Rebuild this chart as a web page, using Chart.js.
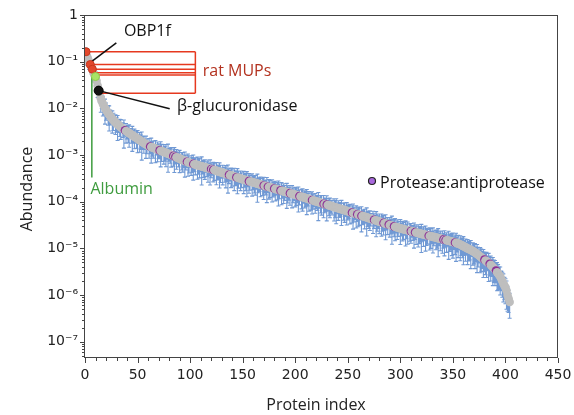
<!DOCTYPE html>
<html><head><meta charset="utf-8">
<script src="https://cdn.jsdelivr.net/npm/chart.js@4.4.1/dist/chart.umd.min.js"></script>
<style>html,body{margin:0;padding:0;background:#fff}#wrap{width:574px;height:415px}</style>
</head><body><div id="wrap"><canvas id="c" width="574" height="415"></canvas></div>
<script>
// ---- data (protein rank 1..N, sorted by abundance) ----
const abundance = [
1.63e-1,1.30e-1,1.12e-1,9.8e-2,8.7e-2,7.8e-2,6.9e-2,5.8e-2,5.2e-2,4.8e-2,
3.9e-2,3.1e-2,2.4e-2,2.1e-2,1.65e-2,1.42e-2,1.25e-2,1.12e-2,1.02e-2,9.3e-3,
8.6e-3,7.9e-3,7.3e-3,6.8e-3,6.3e-3,5.9e-3,5.6e-3,5.3e-3,5.0e-3,4.75e-3,
4.55e-3,4.35e-3,4.15e-3,3.95e-3,3.8e-3,3.65e-3,3.52e-3,3.40e-3,3.28e-3,3.16e-3,
3.05e-3,2.95e-3,2.85e-3,2.75e-3,2.66e-3,2.57e-3,2.48e-3,2.40e-3,2.32e-3,2.24e-3,
2.16e-3,2.09e-3,2.02e-3,1.95e-3,1.88e-3,1.82e-3,1.76e-3,1.70e-3,1.64e-3,1.58e-3,
1.55e-3,1.52e-3,1.49e-3,1.46e-3,1.43e-3,1.40e-3,1.37e-3,1.34e-3,1.31e-3,1.29e-3,
1.26e-3,1.24e-3,1.21e-3,1.19e-3,1.16e-3,1.14e-3,1.12e-3,1.09e-3,1.07e-3,1.05e-3,
1.03e-3,1.005e-3,9.85e-4,9.6e-4,9.4e-4,9.2e-4,9.0e-4,8.8e-4,8.6e-4,8.4e-4,
8.2e-4,8.0e-4,7.85e-4,7.7e-4,7.5e-4,7.35e-4,7.2e-4,7.05e-4,6.9e-4,6.76e-4,
6.66e-4,6.56e-4,6.46e-4,6.36e-4,6.27e-4,6.17e-4,6.08e-4,5.99e-4,5.90e-4,5.81e-4,
5.72e-4,5.64e-4,5.55e-4,5.47e-4,5.39e-4,5.31e-4,5.23e-4,5.15e-4,5.08e-4,5.01e-4,
4.93e-4,4.85e-4,4.77e-4,4.69e-4,4.61e-4,4.53e-4,4.46e-4,4.38e-4,4.31e-4,4.24e-4,
4.17e-4,4.10e-4,4.03e-4,3.96e-4,3.90e-4,3.83e-4,3.77e-4,3.71e-4,3.65e-4,3.59e-4,
3.53e-4,3.47e-4,3.41e-4,3.35e-4,3.30e-4,3.24e-4,3.19e-4,3.14e-4,3.08e-4,3.03e-4,
2.98e-4,2.94e-4,2.89e-4,2.85e-4,2.80e-4,2.76e-4,2.72e-4,2.68e-4,2.64e-4,2.60e-4,
2.56e-4,2.52e-4,2.48e-4,2.44e-4,2.40e-4,2.37e-4,2.33e-4,2.30e-4,2.26e-4,2.23e-4,
2.20e-4,2.16e-4,2.13e-4,2.10e-4,2.07e-4,2.04e-4,2.01e-4,1.98e-4,1.95e-4,1.92e-4,
1.89e-4,1.86e-4,1.83e-4,1.80e-4,1.78e-4,1.75e-4,1.72e-4,1.70e-4,1.67e-4,1.65e-4,
1.62e-4,1.60e-4,1.57e-4,1.55e-4,1.53e-4,1.50e-4,1.48e-4,1.46e-4,1.43e-4,1.41e-4,
1.39e-4,1.37e-4,1.34e-4,1.32e-4,1.30e-4,1.28e-4,1.26e-4,1.24e-4,1.22e-4,1.20e-4,
1.18e-4,1.16e-4,1.14e-4,1.12e-4,1.10e-4,1.09e-4,1.07e-4,1.05e-4,1.03e-4,1.02e-4,
1.00e-4,9.85e-5,9.70e-5,9.54e-5,9.39e-5,9.24e-5,9.09e-5,8.94e-5,8.80e-5,8.66e-5,
8.52e-5,8.38e-5,8.25e-5,8.12e-5,7.99e-5,7.86e-5,7.73e-5,7.61e-5,7.49e-5,7.37e-5,
7.25e-5,7.13e-5,7.02e-5,6.91e-5,6.80e-5,6.69e-5,6.58e-5,6.48e-5,6.37e-5,6.27e-5,
6.16e-5,6.06e-5,5.96e-5,5.86e-5,5.76e-5,5.66e-5,5.57e-5,5.47e-5,5.38e-5,5.29e-5,
5.20e-5,5.11e-5,5.03e-5,4.94e-5,4.86e-5,4.78e-5,4.70e-5,4.62e-5,4.54e-5,4.46e-5,
4.39e-5,4.31e-5,4.24e-5,4.17e-5,4.10e-5,4.03e-5,3.96e-5,3.90e-5,3.83e-5,3.77e-5,
3.70e-5,3.64e-5,3.58e-5,3.52e-5,3.46e-5,3.40e-5,3.35e-5,3.29e-5,3.24e-5,3.18e-5,
3.13e-5,3.07e-5,3.02e-5,2.97e-5,2.92e-5,2.87e-5,2.82e-5,2.78e-5,2.73e-5,2.69e-5,
2.65e-5,2.62e-5,2.58e-5,2.55e-5,2.51e-5,2.48e-5,2.45e-5,2.41e-5,2.38e-5,2.35e-5,
2.32e-5,2.29e-5,2.26e-5,2.23e-5,2.20e-5,2.17e-5,2.14e-5,2.11e-5,2.08e-5,2.05e-5,
2.03e-5,2.00e-5,1.97e-5,1.95e-5,1.92e-5,1.90e-5,1.87e-5,1.85e-5,1.82e-5,1.80e-5,
1.78e-5,1.75e-5,1.73e-5,1.71e-5,1.68e-5,1.66e-5,1.64e-5,1.62e-5,1.60e-5,1.58e-5,
1.56e-5,1.54e-5,1.52e-5,1.50e-5,1.48e-5,1.46e-5,1.44e-5,1.42e-5,1.40e-5,1.38e-5,
1.36e-5,1.34e-5,1.32e-5,1.30e-5,1.27e-5,1.24e-5,1.21e-5,1.18e-5,1.15e-5,1.12e-5,
1.09e-5,1.06e-5,1.03e-5,1.00e-5,9.75e-6,9.50e-6,9.25e-6,9.00e-6,8.75e-6,8.50e-6,
8.2e-6,7.9e-6,7.6e-6,7.3e-6,7.0e-6,6.7e-6,6.45e-6,6.2e-6,5.95e-6,5.75e-6,
5.5e-6,5.3e-6,5.1e-6,4.9e-6,4.68e-6,4.45e-6,4.2e-6,4.0e-6,3.75e-6,3.55e-6,
3.35e-6,3.1e-6,2.9e-6,2.7e-6,2.51e-6,2.25e-6,2.0e-6,1.78e-6,1.6e-6,1.45e-6,
1.25e-6,1.0e-6,8.5e-7,7.1e-7
];
// relative standard deviation of each protein abundance
const relErr = [
.2,.35,.15,.3,.15,.25,.2,.15,.15,.25,
.4,.45,.25,.35,.5,.3,.45,.35,.55,.4,
.3,.45,.55,.35,.25,.5,.4,.15,.45,.35,
.55,.3,.4,.45,.2,.35,.6,.25,.45,.3,
.4,.5,.15,.35,.55,.3,.45,.25,.4,.5,
.2,.45,.35,.6,.3,.4,.25,.5,.35,.15,
.45,.3,.55,.35,.4,.2,.5,.25,.45,.35,
.3,.55,.4,.15,.45,.35,.5,.25,.6,.3,
.35,.45,.2,.4,.55,.3,.45,.25,.35,.5,
.15,.4,.45,.3,.55,.35,.25,.5,.4,.2,
.45,.35,.55,.3,.4,.15,.5,.35,.45,.25,
.6,.3,.4,.45,.2,.35,.5,.3,.55,.35,
.25,.45,.4,.15,.5,.35,.3,.55,.4,.25,
.45,.2,.35,.5,.3,.6,.35,.25,.45,.4,
.15,.5,.35,.3,.55,.4,.25,.45,.35,.2,
.5,.3,.4,.55,.25,.45,.35,.15,.5,.3,
.4,.45,.25,.6,.35,.3,.45,.2,.4,.5,
.3,.35,.55,.25,.45,.4,.15,.5,.35,.3,
.45,.25,.4,.55,.35,.2,.5,.3,.45,.35,
.25,.55,.4,.3,.45,.15,.5,.35,.25,.45,
.4,.3,.55,.35,.2,.45,.5,.25,.4,.35,
.55,.3,.45,.15,.4,.5,.35,.25,.45,.3,
.35,.6,.25,.4,.45,.2,.5,.35,.3,.55,
.25,.4,.45,.3,.35,.15,.5,.4,.55,.25,
.45,.35,.3,.55,.2,.4,.45,.25,.5,.35,
.3,.45,.15,.4,.55,.35,.25,.5,.3,.45,
.4,.2,.55,.35,.3,.45,.25,.6,.35,.4,
.45,.3,.15,.5,.35,.25,.55,.4,.3,.45,
.2,.5,.35,.45,.3,.55,.25,.4,.15,.45,
.35,.6,.3,.4,.5,.25,.45,.35,.2,.55,
.3,.45,.4,.25,.55,.35,.5,.15,.4,.45,
.25,.35,.55,.3,.45,.2,.5,.4,.35,.6,
.3,.45,.25,.55,.4,.35,.15,.5,.45,.3,
.55,.35,.25,.45,.4,.6,.3,.45,.2,.5,
.35,.55,.3,.45,.25,.6,.4,.35,.5,.55,
.3,.45,.6,.35,.5,.25,.55,.4,.45,.6,
.35,.5,.3,.55,.45,.4,.6,.25,.5,.45,
.55,.35,.6,.45,.3,.55,.5,.4,.6,.45,
.5,.55,.35,.6,.45,.55,.4,.6,.5,.55,
.45,.6,.55,.5,.6,.45,.55,.6,.5,.55,
.6,.55,.5,.55
];
// protein ranks of highlighted groups
const proteaseIdx = [38,62,71,84,86,97,103,120,122,137,144,156,170,174,180,186,195,204,216,227,230,254,259,263,275,284,289,294,310,314,327,341,343,352,380,385,391];
const mupIdx = [1,5,7,8,9,14];
const albuminIdx = 10;
const glucuronidaseIdx = 13;
const obp1fIdx = 4;
const xTickLabels = [0,50,100,150,200,250,300,350,400,450];
const yTickExponents = [0,-1,-2,-3,-4,-5,-6,-7];

// ---- styling constants ----
const GRAY = '#bebebe', PURPLE = '#8c2f96', ERR = '#7099d4', RED = '#e6391f', GREEN = '#3f9c3f';
const ANNOT_FONT = '"Open Sans", "DejaVu Sans", sans-serif';
const TICK_FONT = '"DejaVu Sans", sans-serif';
const MUP_LINE_END = 105;

const val = i => abundance[i - 1];
const sup = e => String(e).split('').map(ch => ({'-':'⁻','0':'⁰','1':'¹','2':'²','3':'³','4':'⁴','5':'⁵','6':'⁶','7':'⁷','8':'⁸','9':'⁹'})[ch]).join('');

const mainPoints = abundance.map((v, i) => ({x: i + 1, y: v}));
const isProt = abundance.map((v, i) => proteaseIdx.includes(i + 1));

const datasets = [];
// highlighted points (on top)
datasets.push({data: [{x: glucuronidaseIdx, y: val(glucuronidaseIdx)}], pointRadius: 4.5, pointBackgroundColor: '#111', pointBorderColor: '#000', pointBorderWidth: 1, showLine: false, order: 1});
datasets.push({data: [{x: albuminIdx, y: val(albuminIdx)}], pointRadius: 4, pointBackgroundColor: '#a9e466', pointBorderColor: '#8fcf4c', pointBorderWidth: 1, showLine: false, order: 2});
datasets.push({data: mupIdx.slice(0, 3).map(i => ({x: i, y: val(i)})), pointRadius: 4, pointBackgroundColor: '#e2482c', pointBorderColor: '#c8371d', pointBorderWidth: 1, showLine: false, order: 3});
// MUP bracket lines
const mupVals = mupIdx.map(val);
mupIdx.forEach(i => datasets.push({data: [{x: i, y: val(i)}, {x: MUP_LINE_END, y: val(i)}], showLine: true, borderColor: RED, borderWidth: 1.5, pointRadius: 0, order: 5}));
datasets.push({data: [{x: MUP_LINE_END, y: Math.max(...mupVals)}, {x: MUP_LINE_END, y: Math.min(...mupVals)}], showLine: true, borderColor: RED, borderWidth: 1.5, pointRadius: 0, order: 5});
// albumin line
datasets.push({data: [{x: 6.5, y: 0.047}, {x: 6.5, y: 3.3e-4}], showLine: true, borderColor: GREEN, borderWidth: 1.5, pointRadius: 0, order: 5});
// pointer lines
datasets.push({data: [{x: 5.9, y: 0.099}, {x: 29.8, y: 0.254}], showLine: true, borderColor: '#111', borderWidth: 1.5, pointRadius: 0, order: 4});
datasets.push({data: [{x: glucuronidaseIdx, y: val(glucuronidaseIdx)}, {x: 80.6, y: 0.00986}], showLine: true, borderColor: '#111', borderWidth: 1.5, pointRadius: 0, order: 4});
// main series
datasets.push({data: mainPoints, showLine: false,
  pointRadius: 4.3,
  pointBackgroundColor: isProt.map(p => p ? PURPLE : GRAY),
  pointBorderWidth: 0, order: 10});

const errorBars = {
  id: 'errorBars',
  beforeDatasetsDraw(chart) {
    const {ctx, chartArea: a, scales: {x, y}} = chart;
    ctx.save();
    ctx.beginPath(); ctx.rect(a.left, a.top, a.right - a.left, a.bottom - a.top); ctx.clip();
    ctx.strokeStyle = ERR; ctx.lineWidth = 1.1;
    ctx.beginPath();
    abundance.forEach((v, i) => {
      const e = v * relErr[i];
      const px = x.getPixelForValue(i + 1);
      const yt = y.getPixelForValue(v + e), yb = y.getPixelForValue(v - e);
      ctx.moveTo(px, yt); ctx.lineTo(px, yb);
      ctx.moveTo(px - 2, yt); ctx.lineTo(px + 2, yt);
      ctx.moveTo(px - 2, yb); ctx.lineTo(px + 2, yb);
    });
    ctx.stroke(); ctx.restore();
  }
};

const annotations = {
  id: 'annotations',
  afterDatasetsDraw(chart) {
    const {ctx, scales: {x, y}} = chart;
    const t = (txt, xv, yv, color, size) => {
      ctx.fillStyle = color; ctx.font = size + 'px ' + ANNOT_FONT;
      ctx.textAlign = 'left'; ctx.textBaseline = 'middle';
      ctx.fillText(txt, x.getPixelForValue(xv), y.getPixelForValue(yv));
    };
    ctx.save();
    t('OBP1f', 37, 0.45, '#111', 16);
    t('rat MUPs', 112, 0.0625, '#b3321f', 16);
    t('β-glucuronidase', 87.5, 0.011, '#111', 16);
    t('Albumin', 5.2, 1.8e-4, GREEN, 16);
    // legend
    const lx = 372, ly = 181;
    ctx.beginPath(); ctx.arc(lx, ly, 3.5, 0, Math.PI * 2);
    ctx.fillStyle = '#a868dc'; ctx.fill(); ctx.lineWidth = 1.2; ctx.strokeStyle = '#222'; ctx.stroke();
    ctx.fillStyle = '#111'; ctx.font = '16px ' + ANNOT_FONT; ctx.textAlign = 'left'; ctx.textBaseline = 'middle';
    ctx.fillText('Protease:antiprotease', 380, 183);
    ctx.restore();
  }
};

const frame = {
  id: 'frame',
  afterDraw(chart) {
    const {ctx, chartArea: a, scales: {x, y}} = chart;
    ctx.save();
    ctx.strokeStyle = '#444'; ctx.lineWidth = 1;
    ctx.strokeRect(Math.round(a.left) - 0.5, Math.round(a.top) + 0.5, Math.round(a.right - a.left), Math.round(a.bottom - a.top) - 1);
    ctx.beginPath();
    x.ticks.forEach(tk => {
      const px = Math.round(x.getPixelForValue(tk.value)) + 0.5;
      const len = xTickLabels.includes(tk.value) ? 5 : 3;
      ctx.moveTo(px, a.bottom); ctx.lineTo(px, a.bottom + len);
    });
    y.ticks.forEach(tk => {
      const py = Math.round(y.getPixelForValue(tk.value)) + 0.5;
      const e = Math.log10(tk.value);
      const len = Math.abs(e - Math.round(e)) < 1e-6 ? 5 : 3;
      ctx.moveTo(a.left, py); ctx.lineTo(a.left - len, py);
    });
    ctx.stroke();
    // axis titles
    ctx.fillStyle = '#222'; ctx.font = '16px ' + ANNOT_FONT;
    ctx.textAlign = 'center'; ctx.textBaseline = 'middle';
    ctx.fillText('Protein index', 316, 405);
    ctx.translate(27, 189); ctx.rotate(-Math.PI / 2);
    ctx.fillText('Abundance', 0, 0);
    ctx.restore();
  }
};

function build() {
  new Chart(document.getElementById('c'), {
    type: 'scatter',
    data: {datasets},
    options: {
      responsive: false, animation: false, devicePixelRatio: 1, events: [],
      layout: {padding: {top: 15, right: 16, left: 0, bottom: 0}},
      plugins: {legend: {display: false}, tooltip: {enabled: false}},
      scales: {
        x: {
          type: 'linear', min: 0, max: 450,
          afterBuildTicks(s) { const tk = []; for (let v = 0; v <= 450; v += 10) tk.push({value: v}); s.ticks = tk; },
          ticks: {autoSkip: false, maxRotation: 0, padding: 9, color: '#222', font: {family: TICK_FONT, size: 14},
            callback: v => xTickLabels.includes(v) ? String(v) : ''},
          grid: {display: false, drawTicks: false}, border: {display: false},
          title: {display: false},
          afterFit(s) { s.height = 57; s.paddingLeft = 0; s.paddingRight = 0; }
        },
        y: {
          type: 'logarithmic', min: 4.5e-8, max: 1,
          afterBuildTicks(s) {
            const tk = [];
            for (let e = -8; e <= 0; e++) for (let m = 1; m <= 9; m++) {
              const v = m * Math.pow(10, e);
              if (v >= 4.5e-8 && v <= 1.0000001) tk.push({value: v});
            }
            s.ticks = tk;
          },
          ticks: {autoSkip: false, padding: 7, color: '#222', font: {family: TICK_FONT, size: 14},
            callback: v => {
              const e = Math.round(Math.log10(v));
              if (Math.abs(Math.log10(v) - e) > 1e-6 || !yTickExponents.includes(e)) return '';
              return e === 0 ? '1' : '10' + sup(e);
            }},
          grid: {display: false, drawTicks: false}, border: {display: false},
          title: {display: false},
          afterFit(s) { s.width = 85; s.paddingTop = 0; s.paddingBottom = 0; }
        }
      }
    },
    plugins: [errorBars, annotations, frame]
  });
}
Promise.all([
  document.fonts.load('16px "Open Sans"'),
  document.fonts.load('14px "DejaVu Sans"')
]).then(build, build);
</script>
</body></html>
